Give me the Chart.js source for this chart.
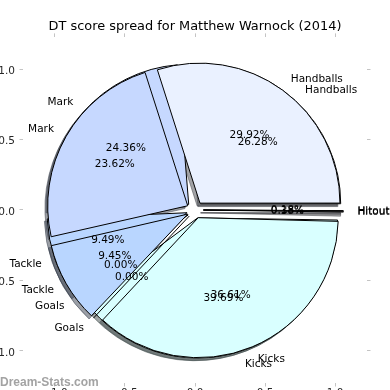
<!DOCTYPE html>
<html>
<head>
<meta charset="utf-8">
<script src="https://cdn.jsdelivr.net/npm/chart.js@4.4.1/dist/chart.umd.min.js"></script>
<style>
  html, body { margin: 0; padding: 0; width: 390px; height: 390px; overflow: hidden; background: #fff; }
  #wrap { position: absolute; left: -20px; top: 0; width: 430px; height: 430px; }
</style>
</head>
<body>
<div id="wrap"><canvas id="pieChart"></canvas></div>
<script>
// two seasons' spreads drawn on top of each other, like the original
const categories = ['Handballs', 'Mark', 'Tackle', 'Goals', 'Kicks', 'Hitout'];
const spreadA = [29.92, 23.62, 9.45, 0.00, 36.61, 0.38];
const spreadB = [26.28, 24.36, 9.49, 0.00, 39.69, 0.18];
const sliceColors = ['#eaf1ff', '#c6d8ff', '#b9d6ff', '#cde3ff', '#d9ffff', '#f2f2ff'];
const axisTicks = [-1.0, -0.5, 0.0, 0.5, 1.0];
const titleText = 'DT score spread for Matthew Warnock (2014)';
const watermark = 'Dream-Stats.com';

const FONT = '"DejaVu Sans", sans-serif';
const axisLimit = 1.22857;   // data units shown each side of the centre
const explode = 0.06;        // in radius units
const shadowShift = 2.8;

function shade(hex) {
    const n = parseInt(hex.slice(1), 16);
    const r = (n >> 16) & 255, g = (n >> 8) & 255, b = n & 255;
    return 'rgba(' + Math.round(r * 0.3) + ',' + Math.round(g * 0.3) + ',' + Math.round(b * 0.3) + ',0.5)';
}

function pieGeometry(chart) {
    const xs = chart.scales.x, ys = chart.scales.y;
    const cx = xs.getPixelForValue(0), cy = ys.getPixelForValue(0);
    return { cx, cy, r: xs.getPixelForValue(1) - cx };
}

// overlay both datasets as full pies sized by the axes (matplotlib style)
const pieLayout = {
    id: 'pieLayout',
    afterDatasetsUpdate(chart) {
        const { cx, cy, r } = pieGeometry(chart);
        chart.data.datasets.forEach((ds, i) => {
            chart.getDatasetMeta(i).data.forEach(arc => {
                const push = (arc.options.offset || 0) / 4;
                const fix = 1 - Math.sin(Math.min(Math.PI, arc.circumference || 0));
                arc.x = cx;
                arc.y = cy;
                arc.innerRadius = 0;
                arc.outerRadius = r - push * fix;
            });
        });
    },
    beforeDatasetsDraw(chart) {
        const ctx = chart.ctx;
        const { r } = pieGeometry(chart);
        ctx.save();
        ctx.lineWidth = 1;
        chart.data.datasets.forEach((ds, i) => {
            chart.getDatasetMeta(i).data.forEach(arc => {
                if (!arc.circumference) return;
                const mid = (arc.startAngle + arc.endAngle) / 2;
                const push = arc.options.offset / 4;
                const x = arc.x + Math.cos(mid) * push - shadowShift;
                const y = arc.y + Math.sin(mid) * push + shadowShift;
                const c = shade(arc.options.backgroundColor);
                ctx.beginPath();
                ctx.moveTo(x, y);
                ctx.arc(x, y, r, arc.startAngle, arc.endAngle);
                ctx.closePath();
                ctx.fillStyle = c;
                ctx.strokeStyle = c;
                ctx.fill();
                ctx.stroke();
            });
        });
        ctx.restore();
    },
    afterDatasetDraw(chart, args) {
        // zero sized wedges still leave their edge line in matplotlib
        const ctx = chart.ctx;
        const { r } = pieGeometry(chart);
        ctx.save();
        ctx.strokeStyle = '#000';
        ctx.lineWidth = 1;
        args.meta.data.forEach(arc => {
            if (arc.circumference) return;
            const a = arc.startAngle;
            const push = arc.options.offset / 4;
            const x = arc.x + Math.cos(a) * push, y = arc.y + Math.sin(a) * push;
            ctx.beginPath();
            ctx.moveTo(x, y);
            ctx.lineTo(x + Math.cos(a) * r, y + Math.sin(a) * r);
            ctx.stroke();
        });
        ctx.restore();
    },
    afterDatasetsDraw(chart) {
        const ctx = chart.ctx;
        const { r } = pieGeometry(chart);
        ctx.save();
        ctx.fillStyle = '#000';
        ctx.font = '10.5px ' + FONT;
        ctx.textBaseline = 'middle';
        chart.data.datasets.forEach((ds, i) => {
            chart.getDatasetMeta(i).data.forEach((arc, j) => {
                const mid = (arc.startAngle + arc.endAngle) / 2;
                const push = arc.options.offset / 4;
                const x = arc.x + Math.cos(mid) * push, y = arc.y + Math.sin(mid) * push;
                const lx = x + Math.cos(mid) * r * 1.1, ly = y + Math.sin(mid) * r * 1.1;
                ctx.textAlign = lx > arc.x ? 'left' : 'right';
                ctx.fillText(chart.data.labels[j], lx, ly);
                ctx.textAlign = 'center';
                ctx.fillText(ds.data[j].toFixed(2) + '%', x + Math.cos(mid) * r * 0.6, y + Math.sin(mid) * r * 0.6);
            });
        });
        ctx.restore();
    },
    afterDraw(chart) {
        const ctx = chart.ctx;
        ctx.save();
        ctx.fillStyle = '#a3a3a3';
        ctx.font = 'bold 12px "Liberation Sans", Arial, sans-serif';
        ctx.textBaseline = 'alphabetic';
        ctx.textAlign = 'left';
        ctx.fillText(watermark, 20, 385.5);
        ctx.restore();
    }
};

function axis(position, labelled, size, pad, shift) {
    const horizontal = position === 'top' || position === 'bottom';
    return {
        type: 'linear',
        position: position,
        min: -axisLimit,
        max: axisLimit,
        afterBuildTicks: s => { s.ticks = axisTicks.map(v => ({ value: v })); },
        afterFit: s => { if (horizontal) s.height = size; else s.width = size; },
        grid: { drawOnChartArea: false, drawTicks: true, tickLength: 3.5, tickWidth: 1, tickColor: '#c4c4c4' },
        border: { display: false },
        ticks: {
            display: labelled,
            color: '#262626',
            padding: pad,
            labelOffset: shift,
            font: { family: FONT, size: 10.5 },
            callback: v => (v < 0 ? '\u2212' : '') + Math.abs(v).toFixed(1)
        }
    };
}

// Chart.js runs clockwise from the rotation, matplotlib counter-clockwise from 3 o'clock
const rev = a => a.slice().reverse();
const wedge = {
    backgroundColor: rev(sliceColors),
    borderColor: '#000',
    borderWidth: 1,
    borderAlign: 'center',
    borderJoinStyle: 'miter',
    offset: 0
};

const chart = new Chart(document.getElementById('pieChart'), {
    type: 'pie',
    data: {
        labels: rev(categories),
        datasets: [
            Object.assign({ data: rev(spreadA) }, wedge),
            Object.assign({ data: rev(spreadB) }, wedge)
        ]
    },
    options: {
        responsive: true,
        maintainAspectRatio: false,
        animation: false,
        events: [],
        rotation: 90,
        layout: { padding: 0 },
        plugins: {
            legend: { display: false },
            tooltip: { enabled: false },
            title: {
                display: true,
                text: titleText,
                color: '#000',
                font: { family: FONT, size: 12.9, weight: 'normal' },
                padding: { top: 19, bottom: 1 }
            }
        },
        scales: {
            x: axis('bottom', true, 47, 0, 0),
            y: axis('left', true, 43, 4.5, 2),
            x2: axis('top', false, 1.4, 0, 0),
            y2: axis('right', false, 43, 0, 0)
        }
    },
    plugins: [pieLayout]
});

// explode: the arc offset is a quarter-applied pixel push, so scale from the radius
const rpx = pieGeometry(chart).r;
chart.data.datasets.forEach(ds => { ds.offset = explode * rpx * 4; });
chart.update();
</script>
</body>
</html>
